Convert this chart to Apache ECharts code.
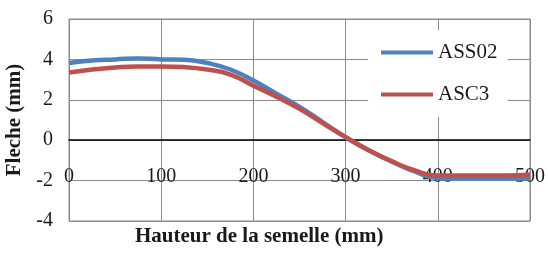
<!DOCTYPE html>
<html>
<head>
<meta charset="utf-8">
<script src="https://cdn.jsdelivr.net/npm/echarts@6/dist/echarts.min.js"></script>
<style>
  html, body { margin: 0; padding: 0; background: #fff; }
  #chart { width: 548px; height: 253px; }
</style>
</head>
<body>
<div id="chart"></div>
<script>
// hauteur de la semelle (mm)
var hauteur = [0, 25, 50, 75, 100, 125, 150, 175, 200, 225, 250, 275, 300, 325, 350, 375, 400, 425, 450, 475, 500];
// fleche (mm)
var ass02 = [3.82, 3.95, 4.0, 4.05, 4.0, 3.98, 3.82, 3.5, 2.95, 2.3, 1.65, 0.9, 0.15, -0.5, -1.05, -1.55, -1.88, -1.9, -1.9, -1.9, -1.88];
var asc3 = [3.35, 3.5, 3.6, 3.65, 3.65, 3.62, 3.5, 3.25, 2.7, 2.15, 1.55, 0.85, 0.15, -0.5, -1.05, -1.5, -1.75, -1.75, -1.75, -1.75, -1.7];
var seriesNames = ['ASS02', 'ASC3'];
var xTicks = [0, 100, 200, 300, 400, 500];
var yTicks = [-4, -2, 0, 2, 4, 6];

function pairs(xs, ys) {
    return xs.map(function(x, i) { return [x, ys[i]]; });
}

var font = 'Liberation Serif';
var gridTop = 19, gridBottom = 32, chartH = 253;
// the x axis (line + labels) sits on y = 0
var plotH = chartH - gridTop - gridBottom;
var zeroFromBottom = plotH * (0 - yTicks[0]) / (yTicks[yTicks.length - 1] - yTicks[0]);

var chart = echarts.init(document.getElementById('chart'));
var option = {
    animation: false,
    grid: {
        left: 69,
        right: 18,
        top: gridTop,
        bottom: gridBottom,
        containLabel: false,
        outerBoundsMode: 'none',
        show: true,
        borderColor: '#8c8c8c',
        borderWidth: 1
    },
    legend: {
        orient: 'vertical',
        left: 368,
        top: 30,
        padding: [12, 10, 12, 13],
        backgroundColor: '#fff',
        itemWidth: 52,
        itemHeight: 4,
        itemGap: 21,
        icon: 'rect',
        textStyle: { fontFamily: font, fontSize: 21, color: '#1a1a1a' },
        data: seriesNames
    },
    xAxis: {
        type: 'value',
        position: 'bottom',
        offset: -zeroFromBottom,
        min: xTicks[0],
        max: xTicks[xTicks.length - 1],
        interval: 100,
        axisLine: { onZero: false, lineStyle: { color: '#000', width: 1.5 } },
        axisTick: { show: false },
        axisLabel: { margin: 27, fontFamily: font, fontSize: 20, color: '#1a1a1a' },
        splitLine: { lineStyle: { color: '#8c8c8c', width: 1 } }
    },
    yAxis: {
        type: 'value',
        min: yTicks[0],
        max: yTicks[yTicks.length - 1],
        interval: 2,
        name: 'Fleche (mm)',
        nameLocation: 'middle',
        nameGap: 40,
        nameTextStyle: { fontFamily: font, fontSize: 21, fontWeight: 'bold', color: '#1a1a1a' },
        axisLine: { show: false },
        axisTick: { show: false },
        axisLabel: { margin: 16, fontFamily: font, fontSize: 20, color: '#1a1a1a' },
        splitLine: { lineStyle: { color: '#8c8c8c', width: 1 } }
    },
    graphic: [{
        type: 'text',
        left: 135,
        top: 226,
        style: {
            text: 'Hauteur de la semelle (mm)',
            font: 'bold 21px "Liberation Serif"',
            fill: '#1a1a1a'
        }
    }],
    series: [{
        name: seriesNames[0],
        type: 'line',
        smooth: true,
        showSymbol: false,
        color: '#4f81bd',
        lineStyle: { width: 4.5 },
        data: pairs(hauteur, ass02)
    }, {
        name: seriesNames[1],
        type: 'line',
        smooth: true,
        showSymbol: false,
        color: '#c0504d',
        lineStyle: { width: 4.5 },
        data: pairs(hauteur, asc3)
    }]
};
chart.setOption(option);
</script>
</body>
</html>
